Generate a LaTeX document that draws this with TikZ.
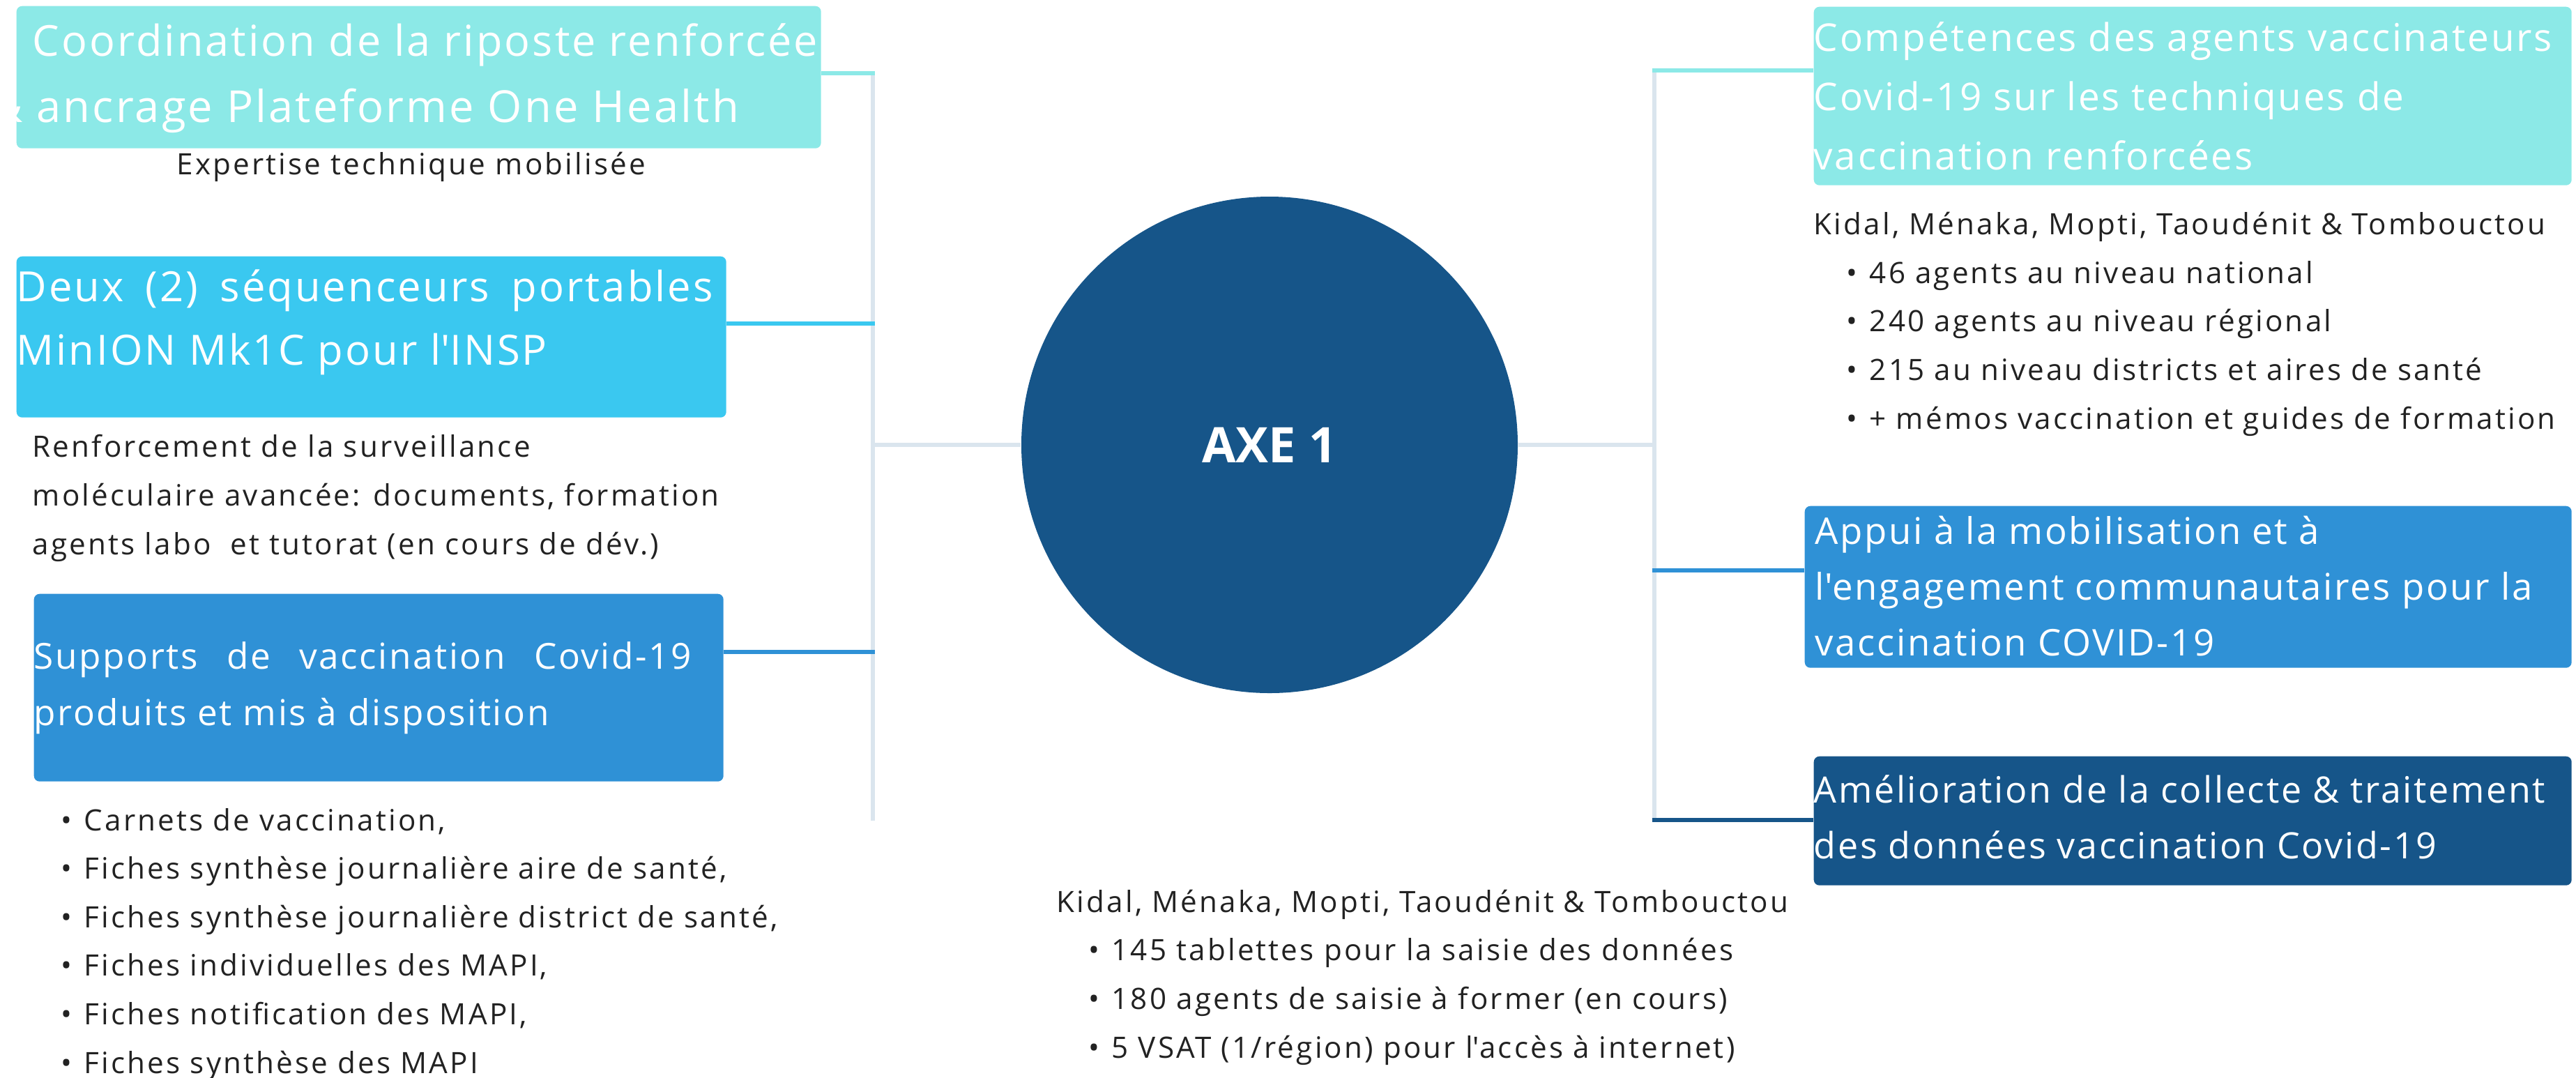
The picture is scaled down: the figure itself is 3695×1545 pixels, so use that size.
\documentclass[tikz,border=0pt]{standalone}
\usepackage{fontspec}
\setmainfont{Open Sans}
\newfontfamily\boxfont[LetterSpace=5]{Open Sans}
\newfontfamily\bodyfont[LetterSpace=7.5]{Open Sans}

\definecolor{turq}{HTML}{8CE9E7}
\definecolor{skyb}{HTML}{3AC8F0}
\definecolor{midb}{HTML}{2F91D6}
\definecolor{deepb}{HTML}{165589}
\definecolor{spinec}{HTML}{DAE5EE}
\definecolor{ink}{HTML}{222222}

\newcommand{\itm}{\makebox[3.3mm][l]{\textbullet}}

\tikzset{
    axebox/.style={rounded corners=0.8mm, inner sep=0, anchor=north west},
    boxtxt/.style={text=white, anchor=base west, inner sep=0, align=left},
    note/.style={text=ink, anchor=base west, inner sep=0, align=left,
        font=\bodyfont\fontsize{12}{19.8}\selectfont},
    spine/.style={spinec, line width=0.6mm},
    branch/.style={line width=0.55mm}
}

\begin{document}
\begin{tikzpicture}[x=0.1mm, y=-0.1mm]

        \useasboundingbox (0,0) rectangle (3695,1545);

        %Spines on both sides
        \coordinate (ltop) at (1252,104);
        \coordinate (lbot) at (1252,1177);
        \coordinate (rtop) at (2373,101);
        \coordinate (rbot) at (2373,1176);
        \draw[spine] (ltop) -- (lbot);
        \draw[spine] (rtop) -- (rbot);

        %Central circle
        \node[circle, fill=deepb, minimum size=71.2mm, inner sep=0, text=white,
            font=\bfseries\fontsize{20}{24}\selectfont] (axe) at (1821,638) {AXE 1};
        \draw[spine] (axe.west) -- (axe.west -| ltop);
        \draw[spine] (axe.east) -- (axe.east -| rtop);

        %Left boxes
        \node[axebox, fill=turq, minimum width=115.4mm, minimum height=20.4mm] (coord) at (23,8) {};
        \node[axebox, fill=skyb, minimum width=101.8mm, minimum height=23.1mm] (seq) at (23,367) {};
        \node[axebox, fill=midb, minimum width=98.9mm, minimum height=26.9mm] (supp) at (48,851) {};

        %Right boxes
        \node[axebox, fill=turq, minimum width=108.7mm, minimum height=25.6mm] (comp) at (2601,9) {};
        \node[axebox, fill=midb, minimum width=110mm, minimum height=23.2mm] (appui) at (2588,725) {};
        \node[axebox, fill=deepb, minimum width=108.7mm, minimum height=18.5mm] (amel) at (2601,1084) {};

        %Branches from spines to boxes
        \coordinate (lb1) at (1255,105);
        \coordinate (lb2) at (1255,464);
        \coordinate (lb3) at (1255,935);
        \coordinate (rb1) at (2370,101);
        \coordinate (rb2) at (2370,818);
        \coordinate (rb3) at (2370,1176);
        \draw[branch, turq] (coord.east |- lb1) -- (lb1);
        \draw[branch, skyb] (seq.east |- lb2) -- (lb2);
        \draw[branch, midb] (supp.east |- lb3) -- (lb3);
        \draw[branch, turq] (rb1) -- (rb1 -| comp.west);
        \draw[branch, midb] (rb2) -- (rb2 -| appui.west);
        \draw[branch, deepb] (rb3) -- (rb3 -| amel.west);

        %Box texts, placed by the baseline of their last line (first one runs past the box)
        \begin{scope}
            \clip[rounded corners=0.8mm] (coord.south west) rectangle (coord.north east);
            \node[boxtxt, font=\boxfont\fontsize{18}{26.9}\selectfont] (coordtxt) at (-14,175)
                {\hspace*{6mm}{\fontsize{17.4}{26.9}\selectfont Coordination de la riposte renforcée}\\\& ancrage Plateforme One Health};
        \end{scope}
        \node[boxtxt, font=\boxfont\fontsize{17}{25.8}\selectfont] (seqtxt) at (23,523)
            {\makebox[99.9mm][s]{Deux (2) séquenceurs portables}\\MinION Mk1C pour l\textquotesingle INSP};
        \node[boxtxt, font=\boxfont\fontsize{14.6}{23}\selectfont] (supptxt) at (48,1040)
            {\makebox[94.3mm][s]{Supports de vaccination Covid-19}\\produits et mis à disposition};
        \node[boxtxt, font=\boxfont\fontsize{15.6}{24.1}\selectfont] (comptxt) at (2601,243)
            {Compétences des agents vaccinateurs\\Covid-19 sur les techniques de\\vaccination renforcées};
        \node[boxtxt, font=\boxfont\fontsize{15}{22.7}\selectfont] (appuitxt) at (2603,940)
            {Appui à la mobilisation et à\\l\textquotesingle engagement communautaires pour la\\vaccination COVID-19};
        \node[boxtxt, font=\boxfont\fontsize{14.8}{22.7}\selectfont] (ameltxt) at (2601,1231)
            {Amélioration de la collecte \& traitement\\des données vaccination Covid-19};

        %Notes under the boxes
        \node[note] (expert) at (253,250) {Expertise technique mobilisée};
        \node[note] (renf) at (46,795)
            {Renforcement de la surveillance\\moléculaire avancée: documents, formation\\agents labo \ et tutorat (en cours de dév.)};
        \node[note] (fiches) at (87,1539)
            {\itm Carnets de vaccination,\\
             \itm Fiches synthèse journalière aire de santé,\\
             \itm Fiches synthèse journalière district de santé,\\
             \itm Fiches individuelles des MAPI,\\
             \itm Fiches notification des MAPI,\\
             \itm Fiches synthèse des MAPI};
        \node[note] (agents) at (2601,615)
            {Kidal, Ménaka, Mopti, Taoudénit \& Tombouctou\\
             \hspace*{4.7mm}\itm 46 agents au niveau national\\
             \hspace*{4.7mm}\itm 240 agents au niveau régional\\
             \hspace*{4.7mm}\itm 215 au niveau districts et aires de santé\\
             \hspace*{4.7mm}\itm + mémos vaccination et guides de formation};
        \node[note] (tablets) at (1515,1517)
            {Kidal, Ménaka, Mopti, Taoudénit \& Tombouctou\\
             \hspace*{4.6mm}\itm 145 tablettes pour la saisie des données\\
             \hspace*{4.6mm}\itm 180 agents de saisie à former (en cours)\\
             \hspace*{4.6mm}\itm 5 VSAT (1/région) pour l\textquotesingle accès à internet)};

\end{tikzpicture}
\end{document}
